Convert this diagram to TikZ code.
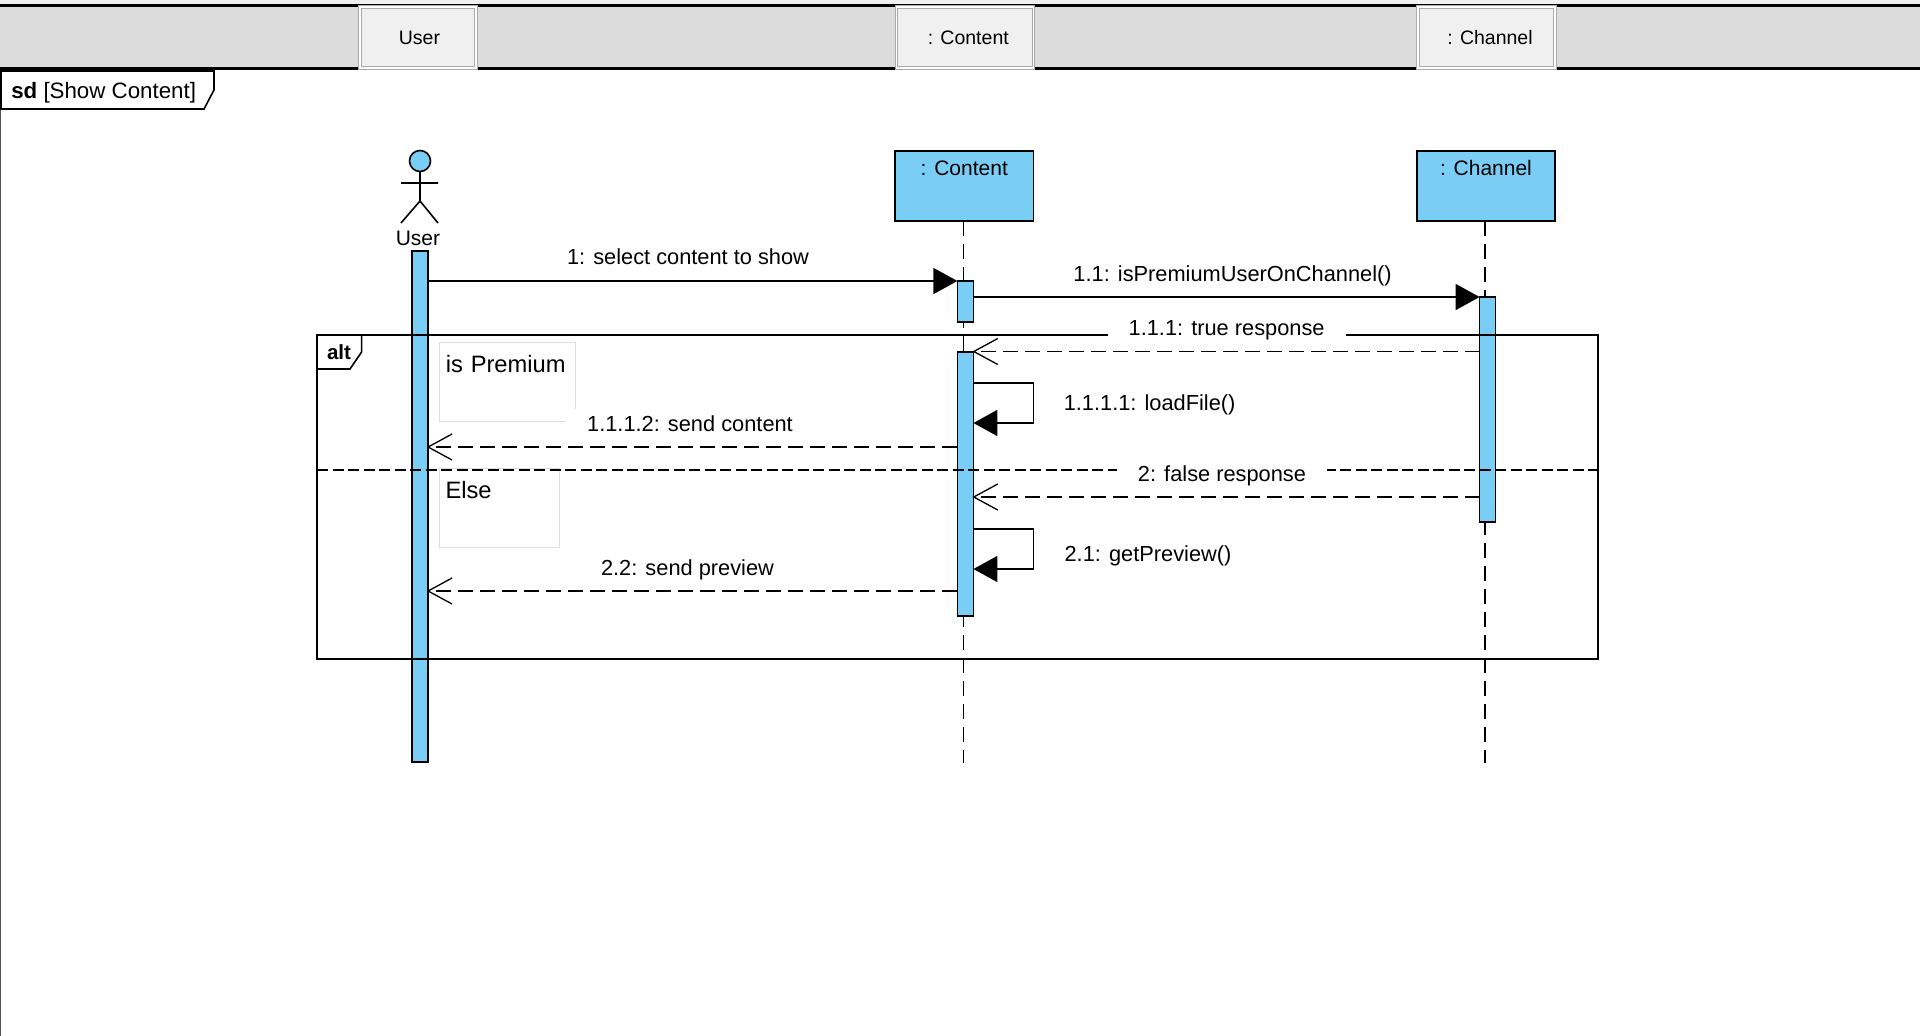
\documentclass[tikz,border=0pt]{standalone}
\usepackage{fontspec}
\setmainfont{Liberation Sans}
\usetikzlibrary{arrows.meta,positioning}
\definecolor{lifeblue}{HTML}{7ACDF5}
\definecolor{headgray}{HTML}{DCDCDC}
\definecolor{tabgray}{HTML}{F0F0F0}
\definecolor{tabedge}{HTML}{ABABAB}
\definecolor{guardedge}{HTML}{DDDDDD}
\definecolor{frameedge}{HTML}{4A5560}

\begin{document}
\begin{tikzpicture}[x=1pt,y=-1pt,line width=1.6pt,
    headtab/.style={draw=tabedge,double=white,double distance=1.4pt,line width=1pt,fill=tabgray,
        minimum height=61pt,inner sep=0pt,font=\fontsize{19.5}{22}\selectfont},
    lifebox/.style={draw,fill=lifeblue,minimum width=138.5pt,inner sep=0pt,outer sep=0pt,
        text height=24pt,text depth=46pt,font=\fontsize{21}{24}\selectfont},
    lifeline/.style={dash pattern=on 15pt off 8pt},
    actbar/.style={draw,fill=lifeblue,minimum width=16pt,inner sep=0pt,outer sep=0pt},
    guardbox/.style={draw=guardedge,line width=1pt,align=left,inner xsep=6.5pt,inner ysep=0pt,
        text height=30.5pt,text depth=48.5pt,font=\fontsize{23.7}{26}\selectfont},
    msglabel/.style={fill=white,inner xsep=21pt,inner ysep=7pt,text height=15pt,text depth=5pt,
        yshift=-2.3pt,font=\fontsize{21.8}{24}\selectfont},
    call/.style={-{Triangle[length=24pt,width=26pt]}},
    reply/.style={dash pattern=on 15pt off 7pt,shorten >=-1pt,-{Straight Barb[length=24pt,width=26pt,line width=1.3pt]}}]
    \useasboundingbox (0,0) rectangle (1920,1036);
    \fill[tabgray] (0,0) rectangle (1920,5);
    % header strip
    \fill[headgray] (0,5) rectangle (1920,68);
    \draw[line width=2.5pt] (0,5.5) -- (1920,5.5);
    \draw[line width=3pt] (0,68) -- (1920,68);
    \node[headtab,minimum width=116pt] (usertab) at (418,37.5) {\hspace*{3pt}User};
    \node[headtab,minimum width=137pt] (contenttab) at (964.8,37.5) {\hspace*{7pt}: Content};
    \node[headtab,minimum width=137pt] (channeltab) at (1486.5,37.5) {\hspace*{7pt}: Channel};
    % outer frame
    \draw[frameedge,line width=1pt] (0.8,109) -- (0.8,1036);
    \draw (1,71) -- (214,71) -- (214,90) -- (204,109) -- (1,109) -- cycle;
    \node[anchor=west,inner sep=0pt,font=\fontsize{22.3}{24}\selectfont] (sdname) at (10.5,92.5) {\textbf{sd} [Show Content]};
    % actor
    \draw[fill=lifeblue] (420,161) circle (10.5);
    \draw (420,171.5) -- (420,201) (401,183) -- (438,183) (401,223) -- (420,201) -- (438,223);
    \node[inner sep=0pt,font=\fontsize{21}{24}\selectfont] (username) at (418,238) {User};
    % lifelines
    \node[lifebox] (contentbox) at (964.3,186) {: Content};
    \node[lifebox] (channelbox) at (1486,186) {: Channel};
    \coordinate (contentend) at (963.6,763);
    \coordinate (channelend) at (1485,763);
    \draw[lifeline] (contentbox.south -| contentend) -- (contentend);
    \draw[lifeline] (channelbox.south -| channelend) -- (channelend);
    \node[actbar,minimum height=511pt] (userbar) at (419.7,506.5) {};
    \node[actbar,minimum height=41pt] (contentbara) at (965.4,301.5) {};
    \node[actbar,minimum height=264pt] (contentbarb) at (965.4,484) {};
    \node[actbar,minimum height=225pt] (channelbar) at (1487.6,409.5) {};
    % alt fragment
    \node[guardbox,text width=123pt] (premium) at (507.25,381.5) {is Premium};
    \node[guardbox,text width=107pt] (otherwise) at (499,507.5) {Else};
    \node[draw,minimum width=1281pt,minimum height=324pt,inner sep=0pt,outer sep=0pt] (altframe) at (957.5,497) {};
    \draw (altframe.north west) -- (361.6,335) -- (361.6,352) -- (350,369) -- (317,369);
    \node[inner sep=0pt,font=\bfseries\fontsize{20.5}{24}\selectfont] (altname) at (339,352) {alt};
    \draw[dash pattern=on 11pt off 4.5pt] (altframe.west |- 0,470) -- (altframe.east |- 0,470);
    % message labels
    \node[msglabel] (selectlabel) at (688,257) {1: select content to show};
    \node[msglabel] (premiumlabel) at (1232.6,274) {1.1: isPremiumUserOnChannel()};
    \node[msglabel] (truelabel) at (1226.6,328) {1.1.1: true response};
    \node[msglabel] (loadlabel) at (1149.6,403) {1.1.1.1: loadFile()};
    \node[msglabel] (sendlabel) at (690,424) {1.1.1.2: send content};
    \node[msglabel] (falselabel) at (1222,474) {2: false response};
    \node[msglabel] (previewlabel) at (1148,553.7) {2.1: getPreview()};
    \node[msglabel] (sendpreviewlabel) at (687.5,568) {2.2: send preview};
    % messages
    \draw[call] (userbar.east |- 0,281) -- (contentbara.west |- 0,281);
    \draw[call] (contentbara.east |- 0,297) -- (channelbar.west |- 0,297);
    \draw[reply] (channelbar.west |- 0,351.5) -- (contentbarb.east |- 0,351.5);
    \draw[call] (contentbarb.east |- 0,383) -- ++(60,0) |- (contentbarb.east |- 0,423);
    \draw[reply] (contentbarb.west |- 0,447) -- (userbar.east |- 0,447);
    \draw[reply] (channelbar.west |- 0,497) -- (contentbarb.east |- 0,497);
    \draw[call] (contentbarb.east |- 0,529) -- ++(60,0) |- (contentbarb.east |- 0,569);
    \draw[reply] (contentbarb.west |- 0,591) -- (userbar.east |- 0,591);
\end{tikzpicture}
\end{document}
